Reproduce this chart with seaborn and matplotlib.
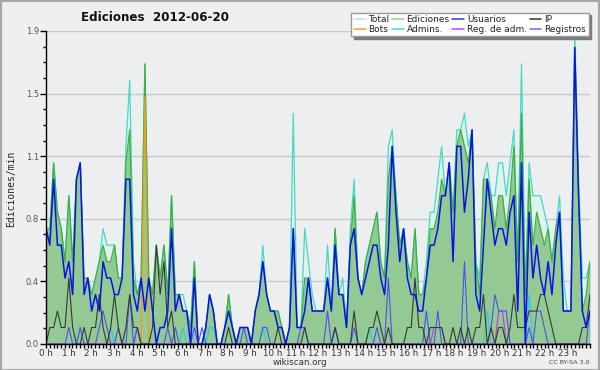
import numpy as np
import pandas as pd
import matplotlib
matplotlib.use("Agg")
import matplotlib.pyplot as plt
from matplotlib.lines import Line2D
from matplotlib.patches import Rectangle
import seaborn as sns

# ---- data (edits per minute, one value per 10 minutes) ----
total = [0.7,0.7,1.1,0.8,0.7,0.5, 0.9,0.5,1.0,1.1,0.4,0.4, 0.3,0.4,0.5,0.7,0.6,0.6,
         0.6,0.4,0.4,1.2,1.6,0.5, 0.3,0.4,1.7,0.4,0.3,0.6, 0.4,0.6,0.3,0.9,0.3,0.3,
         0.3,0.2,0.1,0.5,0.0,0.0, 0.1,0.3,0.2,0.0,0.0,0.1, 0.3,0.1,0.0,0.1,0.1,0.1,
         0.0,0.2,0.3,0.6,0.3,0.2, 0.2,0.2,0.1,0.0,0.1,1.4, 0.1,0.1,0.7,0.5,0.3,0.2,
         0.2,0.2,0.6,0.2,0.7,0.3, 0.4,0.1,0.7,1.0,0.4,0.3, 0.5,0.6,0.7,0.8,0.5,0.4,
         1.2,1.3,0.9,0.6,0.7,0.5, 0.4,0.7,0.3,0.3,0.5,0.8, 0.8,1.0,1.2,0.9,1.1,0.8,
         1.3,1.3,1.4,1.2,1.3,0.5, 0.4,1.0,1.1,0.9,0.9,1.1, 1.1,0.9,1.1,1.3,0.5,1.7,
         0.3,1.1,0.9,0.9,0.9,0.8, 0.7,0.5,0.7,0.9,0.4,0.2, 0.2,1.9,1.0,0.4,0.4,0.5]
ediciones = [0.7,0.7,1.1,0.8,0.7,0.5, 0.9,0.5,1.0,1.1,0.4,0.4, 0.3,0.4,0.5,0.6,0.5,0.5,
             0.6,0.4,0.4,1.1,1.3,0.4, 0.3,0.4,1.7,0.4,0.3,0.6, 0.4,0.6,0.3,0.9,0.3,0.3,
             0.2,0.2,0.1,0.5,0.0,0.0, 0.1,0.3,0.2,0.0,0.0,0.1, 0.3,0.1,0.0,0.1,0.1,0.1,
             0.0,0.2,0.3,0.5,0.3,0.2, 0.2,0.2,0.1,0.0,0.1,0.7, 0.1,0.1,0.4,0.4,0.2,0.2,
             0.2,0.2,0.4,0.2,0.7,0.3, 0.3,0.1,0.6,0.9,0.4,0.3, 0.5,0.6,0.7,0.8,0.5,0.4,
             1.0,1.2,0.9,0.6,0.7,0.5, 0.4,0.7,0.3,0.3,0.4,0.7, 0.7,0.8,1.0,0.9,1.1,0.8,
             1.2,1.3,1.2,1.1,1.3,0.5, 0.3,1.0,1.0,0.9,0.7,0.9, 0.9,0.7,0.9,1.2,0.5,1.4,
             0.3,1.0,0.6,0.8,0.7,0.6, 0.7,0.5,0.7,0.8,0.2,0.2, 0.2,1.8,0.9,0.2,0.3,0.5]
usuarios = [0.7,0.6,1.0,0.6,0.6,0.4, 0.5,0.3,1.0,1.1,0.3,0.4, 0.2,0.3,0.2,0.5,0.4,0.4,
            0.3,0.3,0.4,1.0,1.0,0.3, 0.2,0.4,0.2,0.4,0.2,0.0, 0.1,0.1,0.2,0.7,0.2,0.3,
            0.2,0.2,0.0,0.4,0.0,0.0, 0.1,0.3,0.2,0.0,0.0,0.1, 0.2,0.1,0.0,0.1,0.1,0.1,
            0.0,0.2,0.3,0.5,0.3,0.2, 0.2,0.1,0.1,0.0,0.1,0.7, 0.1,0.1,0.2,0.4,0.2,0.2,
            0.2,0.2,0.4,0.2,0.6,0.3, 0.3,0.1,0.6,0.7,0.4,0.3, 0.4,0.5,0.6,0.6,0.4,0.3,
            0.6,1.2,0.8,0.5,0.7,0.4, 0.3,0.3,0.2,0.2,0.4,0.6, 0.6,0.7,0.9,0.9,1.1,0.5,
            1.2,1.2,0.8,1.0,1.3,0.3, 0.2,0.6,1.0,0.8,0.6,0.7, 0.7,0.6,0.8,0.9,0.2,1.1,
            0.0,0.8,0.4,0.6,0.4,0.3, 0.5,0.3,0.6,0.8,0.2,0.2, 0.2,1.8,0.9,0.2,0.1,0.2]
ip = [0.0,0.1,0.1,0.2,0.1,0.1, 0.4,0.1,0.0,0.0,0.1,0.0, 0.1,0.1,0.3,0.1,0.0,0.1,
      0.3,0.1,0.0,0.1,0.3,0.1, 0.1,0.0,0.0,0.0,0.1,0.6, 0.3,0.5,0.1,0.2,0.0,0.0,
      0.0,0.0,0.0,0.0,0.0,0.0, 0.0,0.0,0.0,0.0,0.0,0.0, 0.1,0.0,0.0,0.0,0.0,0.0,
      0.0,0.0,0.0,0.0,0.0,0.0, 0.0,0.1,0.0,0.0,0.0,0.0, 0.0,0.0,0.1,0.0,0.0,0.0,
      0.0,0.0,0.0,0.0,0.1,0.0, 0.0,0.0,0.0,0.2,0.0,0.0, 0.0,0.1,0.1,0.2,0.1,0.0,
      0.1,0.0,0.0,0.0,0.0,0.1, 0.1,0.4,0.1,0.1,0.0,0.1, 0.1,0.1,0.1,0.0,0.0,0.1,
      0.0,0.1,0.0,0.1,0.0,0.1, 0.1,0.3,0.0,0.1,0.0,0.1, 0.1,0.0,0.1,0.3,0.1,0.1,
      0.1,0.2,0.2,0.2,0.3,0.3, 0.2,0.1,0.0,0.0,0.0,0.0, 0.0,0.0,0.0,0.1,0.1,0.3]
registros = [0.0,0.0,0.0,0.0,0.0,0.0, 0.1,0.0,0.0,0.1,0.0,0.0, 0.0,0.0,0.1,0.2,0.1,0.0,
             0.0,0.1,0.0,0.0,0.3,0.0, 0.1,0.0,0.0,0.0,0.0,0.0, 0.0,0.0,0.1,0.0,0.1,0.0,
             0.0,0.0,0.0,0.1,0.0,0.1, 0.0,0.0,0.0,0.0,0.0,0.0, 0.0,0.0,0.0,0.0,0.1,0.0,
             0.0,0.0,0.0,0.1,0.1,0.0, 0.0,0.0,0.0,0.0,0.0,0.0, 0.0,0.1,0.1,0.0,0.0,0.0,
             0.0,0.0,0.2,0.0,0.1,0.0, 0.0,0.0,0.0,0.1,0.0,0.0, 0.0,0.0,0.0,0.1,0.0,0.0,
             0.4,0.0,0.0,0.0,0.0,0.0, 0.0,0.0,0.0,0.0,0.2,0.0, 0.0,0.2,0.0,0.0,0.0,0.0,
             0.0,0.0,0.5,0.0,0.0,0.0, 0.0,0.0,0.0,0.1,0.3,0.2, 0.2,0.2,0.0,0.0,0.0,0.0,
             0.0,0.1,0.0,0.2,0.2,0.1, 0.0,0.0,0.0,0.0,0.0,0.0, 0.0,0.0,0.0,0.0,0.0,0.2]
admins = [0.0]*144
for k, v in {9: 0.1, 17: 0.1, 36: 0.1, 43: 0.1, 44: 0.1, 57: 0.1, 85: 0.1,
             116: 0.2, 127: 0.3}.items():
    admins[k] = v
reg_adm = [0.0]*144
for k, v in {24: 0.1, 102: 0.1, 103: 0.1, 104: 0.1, 119: 0.2, 120: 0.2}.items():
    reg_adm[k] = v
bots = [0.0]*144
bots[26] = 1.5

hour_labels = [f"{h} h" for h in range(24)]
hours = np.linspace(0, 24, 144)

# ---- style ----
sns.set_style("white")
plt.rcParams["font.family"] = ["DejaVu Sans"]

fig = plt.figure(figsize=(6, 3.7), dpi=100)
fig.patch.set_facecolor("#efefef")
ax = fig.add_axes([0.0767, 0.0703, 0.9066, 0.8460])
ax.set_facecolor("#eceef0")

# areas
ax.fill_between(hours, 0, total, color="#def2ee", lw=0, zorder=1)
ax.fill_between(hours, 0, ediciones, color="#93c993", lw=0, zorder=2)

names = ["Total", "Ediciones", "Bots", "Admins.", "Reg. de adm.", "Registros", "IP", "Usuarios"]
series = {"Total": total, "Ediciones": ediciones, "Bots": bots, "Admins.": admins,
          "Reg. de adm.": reg_adm, "Registros": registros, "IP": ip, "Usuarios": usuarios}
colors = {"Total": "#46d8c8", "Ediciones": "#3cb040", "Bots": "#f59a20",
          "Admins.": "#30c8e0", "Reg. de adm.": "#cc33e6", "Registros": "#5050f0",
          "IP": "#383838", "Usuarios": "#0a14e0"}
widths = {"Total": 0.9, "Ediciones": 0.9, "Bots": 0.9, "Admins.": 0.8,
          "Reg. de adm.": 0.8, "Registros": 0.8, "IP": 0.8, "Usuarios": 1.1}
df = pd.concat([pd.DataFrame({"hora": hours, "valor": series[n], "serie": n}) for n in names],
               ignore_index=True)
sns.lineplot(data=df, x="hora", y="valor", hue="serie", hue_order=names,
             palette=colors, linewidth=0.9, legend=False, ax=ax,
             estimator=None, sort=False, zorder=3)
for line, n in zip(ax.lines, names):
    line.set_linewidth(widths[n])

# axes
ax.set_xlim(0, 24)
ax.set_ylim(0, 1.9)
yt = np.linspace(0, 1.9, 6)
ax.set_yticks(yt)
ax.set_yticklabels([f"{v:.1f}" for v in yt])
ax.set_yticks(np.linspace(0, 1.9, 21), minor=True)
ax.set_xticks(range(24))
ax.set_xticklabels(hour_labels)
ax.set_xticks(np.arange(0, 24.01, 1/6), minor=True)
ax.set_xlabel("")
ax.set_ylabel("")
ax.yaxis.grid(True, color="#c9c9c9", lw=1.0, zorder=0)
ax.set_axisbelow(True)
for s in ["top", "right"]:
    ax.spines[s].set_visible(False)
for s in ["left", "bottom"]:
    ax.spines[s].set_color("black")
    ax.spines[s].set_linewidth(1.0)
    ax.spines[s].set_zorder(5)
ax.tick_params(axis="x", which="both", direction="out", length=3, width=1,
               color="black", labelsize=6.3, labelcolor="#333333", pad=0.5, bottom=True)
ax.tick_params(axis="y", which="major", direction="out", length=4, width=1,
               color="black", labelsize=6.0, labelcolor="#555555", pad=1, left=True)
ax.tick_params(axis="y", which="minor", direction="out", length=2.5, width=1,
               color="black", left=True)

# texts
fig.text(0.258, 0.953, "Ediciones  2012-06-20", fontsize=8.6, fontweight="bold",
         ha="center", va="center", color="#111111")
fig.text(0.018, 0.49, "Ediciones/min", rotation=90, fontsize=7.0, ha="center",
         va="center", family="DejaVu Sans Mono", color="#222222")
fig.text(0.5, 0.019, "wikiscan.org", fontsize=6.3, ha="center", va="center", color="#333333")
fig.text(0.982, 0.020, "CC BY-SA 3.0", fontsize=4.6, ha="right", va="center", color="#444444")

# legend
leg_names = ["Total", "Bots", "Ediciones", "Admins.", "Usuarios", "Reg. de adm.", "IP", "Registros"]
leg_colors = {"Total": "#b8ece4", "Bots": "#f7a030", "Ediciones": "#90d490",
              "Admins.": "#40d4dc", "Usuarios": "#3030e0", "Reg. de adm.": "#d040e8",
              "IP": "#303030", "Registros": "#6a6af0"}
handles = [Line2D([0], [0], color=leg_colors[n], lw=1.1) for n in leg_names]
leg = fig.legend(handles, leg_names, loc="upper right", bbox_to_anchor=(0.981, 0.966),
                 ncol=4, fontsize=6.5, frameon=True, fancybox=False,
                 shadow={"color": "#7a7a7a", "alpha": 1.0},
                 handlelength=1.3, handletextpad=0.3, columnspacing=0.3,
                 labelspacing=0.05, borderpad=0.3, borderaxespad=0)
leg.get_frame().set_facecolor("white")
leg.get_frame().set_edgecolor("#9a9a9a")
leg.get_frame().set_linewidth(1.0)
for t in leg.get_texts():
    t.set_color("#222222")

# outer border
fig.add_artist(Rectangle((0.001, 0.001), 0.997, 0.997, transform=fig.transFigure,
                         fill=False, edgecolor="#a8a8a8", lw=1.6))

fig.savefig("out.png", dpi=100, facecolor=fig.get_facecolor())
